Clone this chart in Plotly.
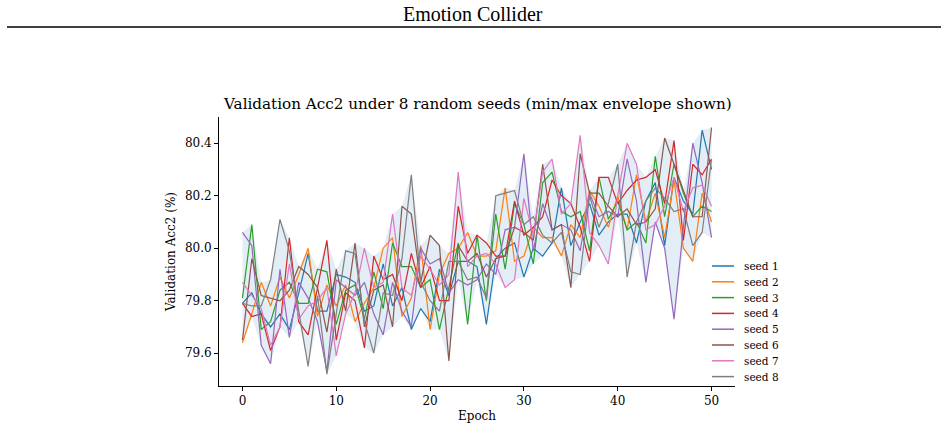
import numpy as np
import plotly.graph_objects as go

epochs = list(range(51))

seed1 = [79.79, 79.83, 79.75, 79.70, 79.75, 79.69, 79.83, 79.98, 79.76, 79.76, 79.90, 79.89, 79.87, 79.76, 79.78, 79.94, 79.78, 79.85, 79.69, 79.77,
         79.72, 79.92, 79.82, 79.95, 79.95, 79.93, 79.71, 79.96, 80.00, 80.02, 79.89, 80.00, 79.97, 80.02, 80.23, 80.01, 80.10, 80.17, 80.05, 80.10,
         80.13, 80.13, 80.02, 80.18, 80.25, 80.01, 80.27, 80.18, 80.13, 80.45, 80.30]
seed2 = [79.64, 79.75, 79.87, 79.78, 79.89, 79.81, 79.90, 80.00, 79.74, 79.86, 79.78, 79.86, 79.72, 79.79, 79.85, 80.00, 80.04, 79.74, 79.81, 80.01,
         79.69, 79.90, 79.98, 80.00, 80.06, 79.97, 79.97, 79.99, 80.23, 79.95, 79.97, 80.08, 80.04, 80.04, 79.97, 80.09, 80.04, 80.22, 80.16, 80.08,
         80.20, 80.07, 80.28, 80.10, 80.21, 80.04, 80.26, 80.00, 79.95, 80.21, 80.10]
seed3 = [79.81, 80.09, 79.69, 79.72, 79.84, 79.87, 79.79, 79.79, 79.92, 79.91, 79.71, 79.84, 79.86, 79.73, 79.91, 79.77, 80.02, 79.93, 79.93, 79.85,
         79.88, 79.69, 79.85, 80.02, 79.71, 80.05, 79.80, 80.13, 79.92, 80.17, 80.09, 79.94, 80.25, 80.29, 80.14, 80.12, 80.14, 79.99, 80.27, 80.11,
         80.18, 80.07, 80.10, 80.02, 80.35, 80.12, 80.32, 80.21, 80.12, 80.16, 80.14]
seed4 = [79.79, 79.74, 79.75, 79.61, 79.70, 80.04, 79.72, 79.67, 79.85, 80.03, 79.65, 79.83, 79.80, 79.62, 79.97, 79.88, 79.90, 79.80, 79.98, 79.85,
         79.93, 79.80, 79.80, 80.16, 79.98, 80.05, 80.02, 79.97, 79.97, 80.18, 80.05, 80.08, 80.12, 80.26, 80.20, 80.17, 80.08, 79.95, 80.27, 80.27,
         80.17, 80.22, 80.26, 80.27, 80.30, 80.17, 80.41, 80.03, 80.32, 80.28, 80.34]
seed5 = [80.06, 80.01, 79.63, 79.56, 79.92, 79.66, 79.87, 79.81, 79.72, 79.53, 79.88, 79.85, 79.82, 79.87, 79.75, 79.67, 79.87, 79.76, 79.70, 80.00,
         79.94, 79.96, 79.83, 79.88, 79.86, 79.88, 79.94, 79.90, 80.07, 80.08, 80.36, 79.99, 80.17, 80.07, 80.09, 80.07, 79.99, 80.21, 80.12, 80.14,
         80.12, 80.34, 80.18, 79.87, 80.10, 80.00, 79.73, 80.08, 80.40, 80.25, 80.04]
seed6 = [79.65, 79.96, 79.82, 79.81, 79.80, 79.84, 79.93, 79.90, 79.85, 79.68, 79.92, 79.76, 80.02, 79.70, 79.84, 79.86, 79.70, 80.16, 80.13, 79.87,
         80.05, 80.01, 79.57, 80.01, 79.95, 79.98, 79.89, 79.96, 79.97, 80.08, 80.06, 80.03, 80.32, 80.07, 80.09, 79.85, 80.36, 80.21, 80.21, 80.16,
         80.12, 80.15, 80.09, 80.10, 80.15, 80.42, 80.32, 80.22, 80.12, 80.12, 80.46]
seed7 = [79.87, 79.82, 79.77, 79.63, 79.70, 79.94, 79.73, 79.78, 79.80, 79.85, 79.59, 79.75, 79.83, 80.00, 79.85, 79.87, 80.13, 79.85, 79.82, 79.97,
         79.92, 79.86, 79.90, 80.29, 79.93, 79.97, 79.98, 79.94, 79.85, 79.88, 80.19, 80.05, 80.29, 80.34, 80.13, 80.17, 80.43, 80.06, 80.01, 79.94,
         80.20, 80.40, 80.32, 80.07, 80.09, 80.16, 80.27, 80.14, 80.23, 80.24, 80.16]
seed8 = [79.79, 79.78, 79.78, 79.88, 80.11, 79.99, 79.76, 79.55, 79.82, 79.52, 79.75, 79.99, 79.98, 79.72, 79.60, 79.83, 79.82, 79.96, 80.28, 79.87,
         79.80, 79.76, 79.95, 79.95, 79.88, 79.89, 79.81, 80.20, 80.21, 80.22, 80.09, 80.12, 80.05, 80.02, 80.06, 79.91, 79.90, 80.20, 80.08, 80.17,
         80.32, 79.89, 80.10, 80.18, 80.23, 80.19, 80.14, 80.15, 80.01, 80.06, 80.34]

series_names = ["seed 1", "seed 2", "seed 3", "seed 4", "seed 5", "seed 6", "seed 7", "seed 8"]
series = [seed1, seed2, seed3, seed4, seed5, seed6, seed7, seed8]
colors = ["#1f77b4", "#ff7f0e", "#2ca02c", "#d62728", "#9467bd", "#8c564b", "#e377c2", "#7f7f7f"]

x_ticks = [0, 10, 20, 30, 40, 50]
y_ticks = [79.6, 79.8, 80.0, 80.2, 80.4]

arr = np.array(series)
env_min = arr.min(axis=0)
env_max = arr.max(axis=0)

SERIF = "DejaVu Serif"

# plot area in pixels
L, R, T, B = 219, 735, 117, 386
W, H = R - L, B - T


def px(x):
    return (x - L) / W


def py(y):
    return 1 - (y - T) / H


fig = go.Figure()
fig.add_trace(go.Scatter(x=epochs, y=env_max, mode="lines", line=dict(width=0),
                         showlegend=False, hoverinfo="skip"))
fig.add_trace(go.Scatter(x=epochs, y=env_min, mode="lines", line=dict(width=0),
                         fill="tonexty", fillcolor="rgba(31,119,180,0.13)",
                         showlegend=False, hoverinfo="skip"))
for name, ys, c in zip(series_names, series, colors):
    fig.add_trace(go.Scatter(x=epochs, y=ys, mode="lines", name=name,
                             line=dict(color=c, width=1.2), showlegend=False))

fig.update_layout(
    width=948, height=429,
    margin=dict(l=L, r=948 - R, t=T, b=429 - B, autoexpand=False),
    paper_bgcolor="white", plot_bgcolor="white",
    font=dict(family=SERIF, color="black", size=12),
    showlegend=False,
)

fig.add_annotation(text="Emotion Collider", xref="paper", yref="paper",
                   x=px(473), y=py(14), showarrow=False,
                   font=dict(family="Liberation Serif", size=20, color="black"),
                   xanchor="center", yanchor="middle")
fig.add_annotation(text="Validation Acc2 under 8 random seeds (min/max envelope shown)",
                   xref="paper", yref="paper", x=px(477), y=py(104),
                   showarrow=False, font=dict(family=SERIF, size=15.2, color="black"),
                   xanchor="center", yanchor="middle")
fig.add_shape(type="line", xref="paper", yref="paper",
              x0=px(7), x1=px(941), y0=py(27), y1=py(27),
              line=dict(color="black", width=1.5))

# manual legend (matplotlib-like compact spacing)
for i, (name, c) in enumerate(zip(series_names, colors)):
    yc = 266 + i * 15.8
    fig.add_shape(type="line", xref="paper", yref="paper",
                  x0=px(712), x1=px(734), y0=py(yc), y1=py(yc),
                  line=dict(color=c, width=1.5))
    fig.add_annotation(text=name, xref="paper", yref="paper",
                       x=px(742), y=py(yc), showarrow=False,
                       xanchor="left", yanchor="middle",
                       font=dict(family=SERIF, size=10.5, color="black"))

fig.update_xaxes(range=[-2.5, 52.5], tickvals=x_ticks, ticktext=[str(v) for v in x_ticks],
                 showgrid=False, zeroline=False, showline=True, linecolor="black", linewidth=1,
                 ticks="outside", ticklen=4, tickcolor="black", automargin=False,
                 tickfont=dict(family=SERIF, size=12),
                 title=dict(text="Epoch", font=dict(family=SERIF, size=12), standoff=4))
fig.update_yaxes(range=[79.475, 80.5], tickvals=y_ticks, ticktext=[f"{v:.1f}" for v in y_ticks],
                 showgrid=False, zeroline=False, showline=True, linecolor="black", linewidth=1,
                 ticks="outside", ticklen=4, tickcolor="black", automargin=False,
                 tickfont=dict(family=SERIF, size=12),
                 title=dict(text="Validation Acc2 (%)", font=dict(family=SERIF, size=12), standoff=6))

fig.write_html("out.html")
